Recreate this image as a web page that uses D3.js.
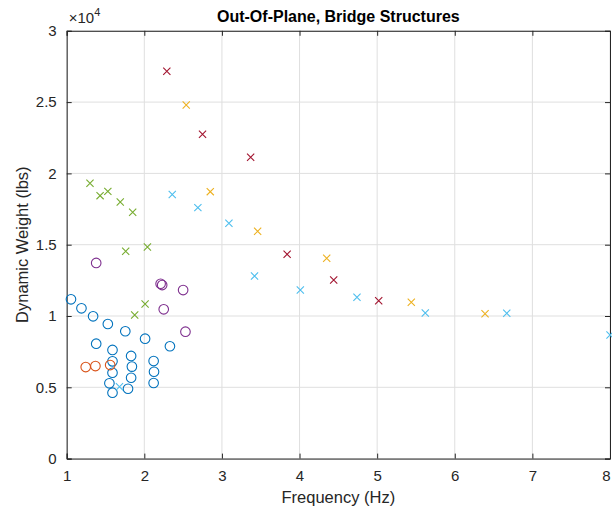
<!DOCTYPE html>
<html>
<head>
<meta charset="utf-8">
<script src="https://cdn.jsdelivr.net/npm/d3@7"></script>
<style>
  html, body { margin: 0; padding: 0; background: #fff; }
  svg { display: block; font-family: "Liberation Sans", Arial, Helvetica, sans-serif; }
</style>
</head>
<body>
<svg id="chart" width="612" height="512"></svg>
<script>
// Frequency (Hz) and dynamic weight (lbs) per group
const blueCircFreq = [1.055, 1.19, 1.34, 1.53, 1.755, 2.01, 1.38, 2.33, 1.59, 1.83, 2.12, 1.59, 1.84, 2.125, 1.59, 1.83, 1.55, 2.12, 1.79, 1.59];
const blueCircWeight = [11170, 10540, 9980, 9440, 8930, 8410, 8060, 7880, 7620, 7200, 6840, 6820, 6450, 6090, 6020, 5670, 5280, 5300, 4900, 4620];

const orangeCircFreq = [1.245, 1.37, 1.56];
const orangeCircWeight = [6420, 6490, 6560];

const purpleCircFreq = [1.38, 2.21, 2.23, 2.50, 2.25, 2.53];
const purpleCircWeight = [13720, 12260, 12170, 11820, 10470, 8900];

const greenXFreq = [1.30, 1.43, 1.53, 1.69, 1.85, 1.76, 2.04, 1.876, 2.01];
const greenXWeight = [19310, 18440, 18740, 17990, 17270, 14540, 14840, 10070, 10840];

const cyanXFreq = [2.36, 2.69, 3.09, 3.42, 4.01, 4.74, 5.62, 6.67, 8.0, 1.68];
const cyanXWeight = [18520, 17600, 16500, 12800, 11820, 11310, 10210, 10190, 8670, 5040];

const redXFreq = [2.29, 2.75, 3.37, 3.84, 4.44, 5.02];
const redXWeight = [27160, 22740, 21130, 14330, 12520, 11070];

const yellowXFreq = [2.54, 2.85, 3.46, 4.35, 5.44, 6.39];
const yellowXWeight = [24800, 18720, 15940, 14050, 10960, 10160];

const xTicks = [1, 2, 3, 4, 5, 6, 7, 8];
const yTicks = [0, 5000, 10000, 15000, 20000, 25000, 30000];
const yTickLabels = ["0", "0.5", "1", "1.5", "2", "2.5", "3"];

const series = [
  { f: blueCircFreq, w: blueCircWeight, color: "#0072BD", marker: "o" },
  { f: orangeCircFreq, w: orangeCircWeight, color: "#D95319", marker: "o" },
  { f: purpleCircFreq, w: purpleCircWeight, color: "#7E2F8E", marker: "o" },
  { f: greenXFreq, w: greenXWeight, color: "#77AC30", marker: "x" },
  { f: cyanXFreq, w: cyanXWeight, color: "#4DBEEE", marker: "x" },
  { f: redXFreq, w: redXWeight, color: "#A2142F", marker: "x" },
  { f: yellowXFreq, w: yellowXWeight, color: "#EDB120", marker: "x" }
];

const L = 66.7, R = 610, T = 30.8, B = 458.6;
const axisColor = "#262626";

const svg = d3.select("#chart");
const x = d3.scaleLinear().domain([1, 8]).range([L, R]);
const y = d3.scaleLinear().domain([0, 30000]).range([B, T]);

// grid
const grid = svg.append("g");
grid.selectAll("line.gx").data(xTicks).join("line")
  .attr("x1", d => x(d)).attr("x2", d => x(d))
  .attr("y1", T).attr("y2", B)
  .attr("stroke", "#dfdfdf").attr("stroke-width", 1);
grid.selectAll("line.gy").data(yTicks).join("line")
  .attr("x1", L).attr("x2", R)
  .attr("y1", d => y(d)).attr("y2", d => y(d))
  .attr("stroke", "#dfdfdf").attr("stroke-width", 1);

// axes with inward ticks
const tickLen = 5;
const xAxisB = d3.axisBottom(x).tickValues(xTicks).tickSize(-tickLen).tickPadding(12).tickFormat(d3.format("d"));
const xAxisT = d3.axisTop(x).tickValues(xTicks).tickSize(-tickLen).tickFormat("");
const yAxisL = d3.axisLeft(y).tickValues(yTicks).tickSize(-tickLen).tickPadding(10)
  .tickFormat((d, i) => yTickLabels[i]);
const yAxisR = d3.axisRight(y).tickValues(yTicks).tickSize(-tickLen).tickFormat("");

function styleAxis(g) {
  g.select(".domain").attr("stroke", axisColor).attr("stroke-width", 1);
  g.selectAll(".tick line").attr("stroke", axisColor);
  g.selectAll(".tick text").attr("fill", axisColor).style("font-size", "15px")
    .style("font-family", "'Liberation Sans', Arial, sans-serif");
}

const gxb = svg.append("g").attr("transform", `translate(0,${B})`).call(xAxisB).call(styleAxis);
// keep the last tick label inside the canvas edge
gxb.selectAll(".tick text").filter(d => d === 8).attr("text-anchor", "end").attr("dx", 0);
svg.append("g").attr("transform", `translate(0,${T})`).call(xAxisT).call(styleAxis);
svg.append("g").attr("transform", `translate(${L},0)`).call(yAxisL).call(styleAxis);
svg.append("g").attr("transform", `translate(${R},0)`).call(yAxisR).call(styleAxis);

// markers
const pts = svg.append("g");
series.forEach(s => {
  const data = s.f.map((f, i) => ({ f, w: s.w[i] }));
  if (s.marker === "o") {
    pts.append("g").selectAll("circle").data(data).join("circle")
      .attr("cx", d => x(d.f)).attr("cy", d => y(d.w)).attr("r", 4.8)
      .attr("fill", "none").attr("stroke", s.color).attr("stroke-width", 1.1);
  } else {
    const h = 3.6;
    pts.append("g").selectAll("path").data(data).join("path")
      .attr("d", d => {
        const cx = x(d.f), cy = y(d.w);
        return `M${cx - h},${cy - h}L${cx + h},${cy + h}M${cx - h},${cy + h}L${cx + h},${cy - h}`;
      })
      .attr("fill", "none").attr("stroke", s.color).attr("stroke-width", 1.1);
  }
});

// exponent label
const expo = svg.append("text").attr("x", L + 2).attr("y", T - 8)
  .attr("fill", axisColor).style("font-size", "15px");
expo.append("tspan").text("\u00d710");
expo.append("tspan").attr("dy", -7).style("font-size", "11px").text("4");

// title
svg.append("text").attr("x", (L + R) / 2).attr("y", 22)
  .attr("text-anchor", "middle").attr("fill", "#000")
  .style("font-size", "16px").style("font-weight", "bold")
  .text("Out-Of-Plane, Bridge Structures");

// axis labels
svg.append("text").attr("x", (L + R) / 2).attr("y", 503)
  .attr("text-anchor", "middle").attr("fill", axisColor)
  .style("font-size", "16.5px").text("Frequency (Hz)");
svg.append("text").attr("transform", `translate(28,${(T + B) / 2}) rotate(-90)`)
  .attr("text-anchor", "middle").attr("fill", axisColor)
  .style("font-size", "16.5px").text("Dynamic Weight (lbs)");
</script>
</body>
</html>
